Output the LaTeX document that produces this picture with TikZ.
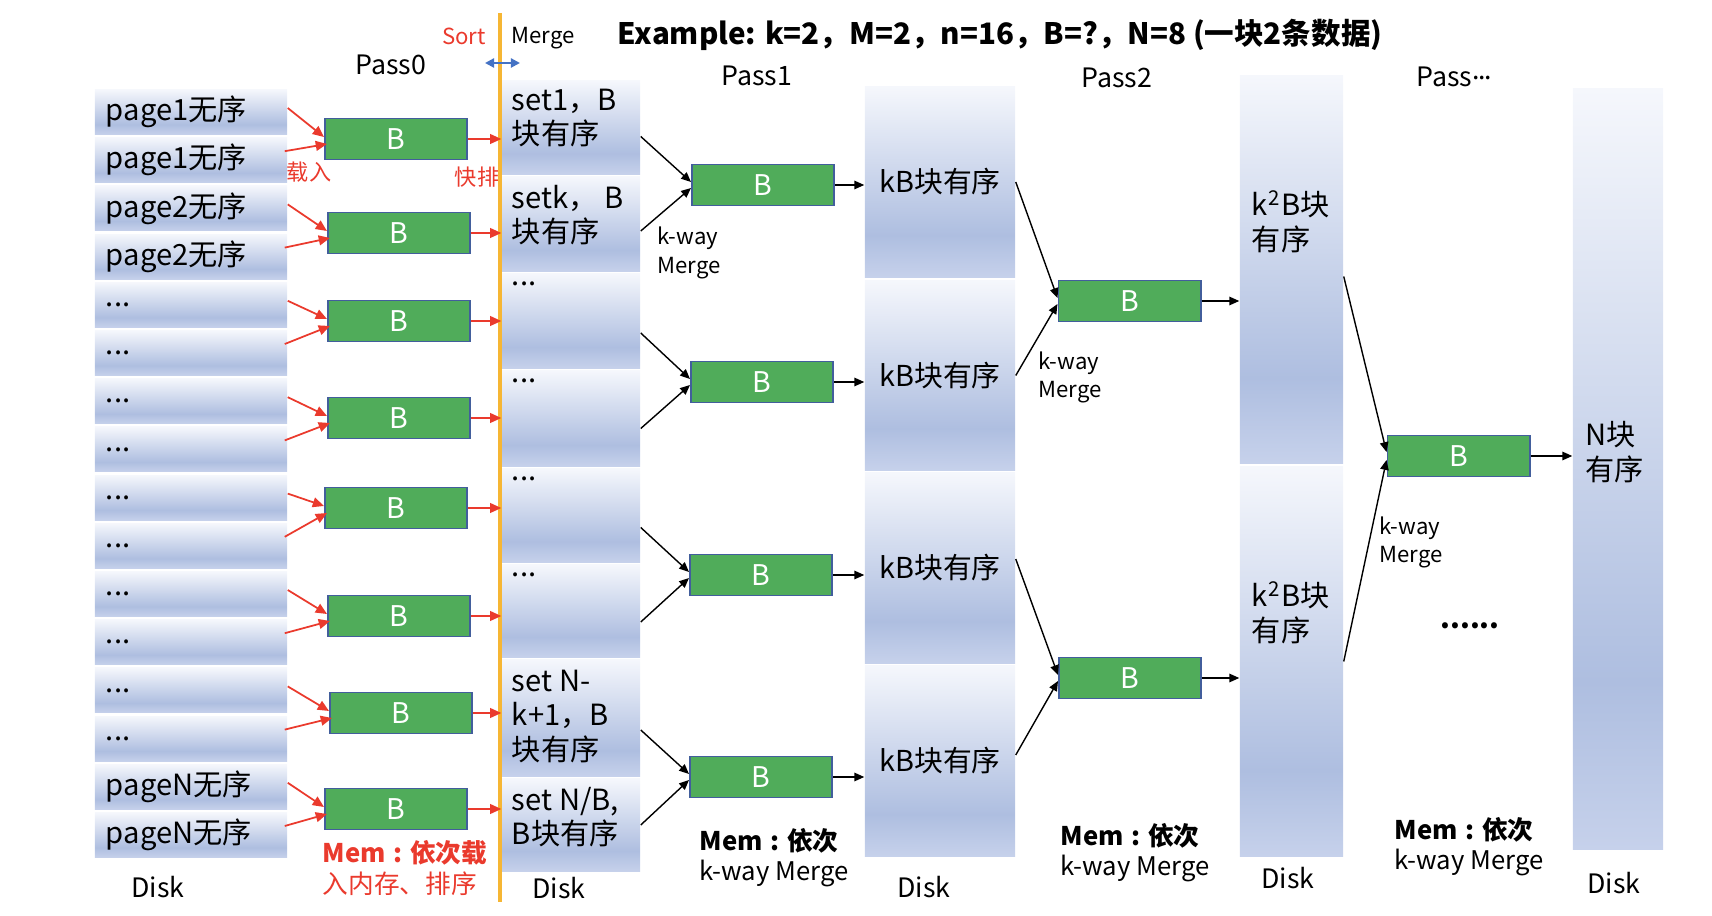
\documentclass[tikz,border=0pt]{standalone}
\usepackage{fontspec}
\setmainfont{Noto Sans CJK SC}
\usetikzlibrary{arrows.meta, positioning, calc}

\definecolor{diskTop}{RGB}{245,247,252}
\definecolor{diskDark}{RGB}{174,190,224}
\definecolor{diskLow}{RGB}{198,209,235}
\definecolor{bufGreen}{RGB}{80,172,90}
\definecolor{bufLine}{RGB}{66,94,156}
\definecolor{sortRed}{RGB}{234,58,45}
\definecolor{sortLine}{RGB}{246,182,52}
\definecolor{gapBlue}{RGB}{68,114,196}

\pgfdeclareverticalshading{diskshade}{100bp}{color(0bp)=(diskLow); color(25bp)=(diskLow); color(36bp)=(diskDark); color(75bp)=(diskTop); color(100bp)=(diskTop)}

\newcommand{\memcolon}{\kern0.3em:\kern0.3em}

\begin{document}
\begin{tikzpicture}[
  x=0.01cm, y=-0.01cm,
  page/.style={rectangle, shade, shading=diskshade, minimum width=1.92cm, minimum height=0.45cm, text width=1.70cm, inner xsep=0.11cm, inner ysep=0pt, align=left, font=\fontsize{8.3}{10}\selectfont},
  seg/.style={rectangle, shade, shading=diskshade, inner sep=0pt, align=center, font=\fontsize{8.2}{9.8}\selectfont},
  buf/.style={rectangle, draw=bufLine, fill=bufGreen, line width=0.55pt, minimum width=1.42cm, minimum height=0.41cm, inner sep=0pt, text=white, font=\fontsize{8.1}{10}\selectfont},
  txt/.style={align=left, inner sep=0pt, font=\fontsize{8.3}{9.8}\selectfont},
  small/.style={align=left, inner sep=0pt, font=\fontsize{6.3}{8}\selectfont},
  passlbl/.style={inner sep=0pt, font=\fontsize{7.6}{9}\selectfont},
  disklbl/.style={inner sep=0pt, font=\fontsize{7.6}{9}\selectfont},
  memlbl/.style={align=left, inner sep=0pt, anchor=west, font=\fontsize{7.3}{8.6}\selectfont},
  arrow/.style={-{Triangle[length=2.8pt,width=2.4pt]}, line width=0.4pt},
  redarrow/.style={-{Triangle[length=3.2pt,width=2.8pt]}, draw=sortRed, fill=sortRed, line width=0.5pt}
]
\useasboundingbox (0,0) rectangle (1712,916);

% headings
\node[font=\bfseries\fontsize{8.4}{10}\selectfont, inner sep=0pt] (title) at (1000,35) {Example: k=2，M=2，n=16，B=?，N=8 (一块2条数据)};
\node[passlbl] (pass0) at (391,65) {Pass0};
\node[passlbl] (pass1) at (757,76) {Pass1};
\node[passlbl] (pass2) at (1117,78) {Pass2};
\node[passlbl] (pass3) at (1454,77) {Pass\raisebox{0.25em}{.\kern-0.06em.\kern-0.06em.}};
\node[small, text=sortRed] (sortlbl) at (464,36) {Sort};
\node[small] (mergelbl) at (543,38) {Merge};

% Disk: unsorted pages
\node[page] (p1) at (191,112) {page1无序};
\node[page] (p2) at (191,160.2) {page1无序};
\node[page] (p3) at (191,208.4) {page2无序};
\node[page] (p4) at (191,256.6) {page2无序};
\node[page] (p5) at (191,304.8) {...};
\node[page] (p6) at (191,353) {...};
\node[page] (p7) at (191,401.2) {...};
\node[page] (p8) at (191,449.4) {...};
\node[page] (p9) at (191,497.6) {...};
\node[page] (p10) at (191,545.8) {...};
\node[page] (p11) at (191,594) {...};
\node[page] (p12) at (191,642.2) {...};
\node[page] (p13) at (191,690.4) {...};
\node[page] (p14) at (191,738.6) {...};
\node[page] (p15) at (191,786.8) {pageN无序};
\node[page] (p16) at (191,835) {pageN无序};

% Pass0 buffers
\node[buf] (b1) at (396,139) {B};
\node[buf] (b2) at (399,233) {B};
\node[buf] (b3) at (399,321) {B};
\node[buf] (b4) at (399,418) {B};
\node[buf] (b5) at (396,508) {B};
\node[buf] (b6) at (399,616) {B};
\node[buf] (b7) at (401,713) {B};
\node[buf] (b8) at (396,809) {B};

% Disk: sorted sets
\node[seg, minimum width=1.38cm, minimum height=0.93cm] (s1) at (571,127.5) {};
\node[seg, minimum width=1.38cm, minimum height=0.94cm] (s2) at (571,224) {};
\node[seg, minimum width=1.38cm, minimum height=0.94cm] (s3) at (571,321) {};
\node[seg, minimum width=1.38cm, minimum height=0.95cm] (s4) at (571,418.5) {};
\node[seg, minimum width=1.38cm, minimum height=0.93cm] (s5) at (571,515.5) {};
\node[seg, minimum width=1.38cm, minimum height=0.92cm] (s6) at (571,611) {};
\node[seg, minimum width=1.38cm, minimum height=1.16cm] (s7) at (571,718) {};
\node[seg, minimum width=1.38cm, minimum height=0.92cm] (s8) at (571,825) {};
\node[txt, anchor=north west] (t1) at ([xshift=0.1cm, yshift=-0.08cm]s1.north west) {set1，B\\块有序};
\node[txt, anchor=north west] (t2) at ([xshift=0.1cm, yshift=-0.08cm]s2.north west) {setk，~B\\块有序};
\node[txt, anchor=north west] (t3) at ([xshift=0.1cm, yshift=-0.08cm]s3.north west) {...};
\node[txt, anchor=north west] (t4) at ([xshift=0.1cm, yshift=-0.08cm]s4.north west) {...};
\node[txt, anchor=north west] (t5) at ([xshift=0.1cm, yshift=-0.08cm]s5.north west) {...};
\node[txt, anchor=north west] (t6) at ([xshift=0.1cm, yshift=-0.08cm]s6.north west) {...};
\node[txt, anchor=north west] (t7) at ([xshift=0.1cm, yshift=-0.1cm]s7.north west) {set N-\\k+1，B\\块有序};
\node[txt, anchor=north west] (t8) at ([xshift=0.1cm, yshift=-0.08cm]s8.north west) {set N/B,\\B块有序};

% Pass1 buffers and kB runs
\node[buf] (m1) at (763,185) {B};
\node[buf] (m2) at (762,382) {B};
\node[buf] (m3) at (761,575) {B};
\node[buf] (m4) at (761,777) {B};
\node[seg, minimum width=1.50cm, minimum height=1.90cm] (k1) at (940,182) {kB块有序};
\node[seg, minimum width=1.50cm, minimum height=1.89cm] (k2) at (940,375.5) {kB块有序};
\node[seg, minimum width=1.50cm, minimum height=1.90cm] (k3) at (940,568) {kB块有序};
\node[seg, minimum width=1.50cm, minimum height=1.90cm] (k4) at (940,761) {kB块有序};

% Pass2 buffers and k^2B runs
\node[buf] (q1) at (1129.5,301) {B};
\node[buf] (q2) at (1130,678) {B};
\node[seg, minimum width=1.03cm, minimum height=3.87cm] (r1) at (1291.5,269.5) {};
\node[seg, minimum width=1.03cm, minimum height=3.89cm] (r2) at (1291.5,661.5) {};
\node[txt, anchor=north west] (rt1) at ([xshift=0.12cm, yshift=-1.15cm]r1.north west) {k\textsuperscript{2}B块\\有序};
\node[txt, anchor=north west] (rt2) at ([xshift=0.12cm, yshift=-1.15cm]r2.north west) {k\textsuperscript{2}B块\\有序};

% last pass
\node[buf] (f) at (1458.5,456) {B};
\node[seg, minimum width=0.90cm, minimum height=7.60cm] (ncol) at (1618,469) {};
\node[txt, anchor=west] (ntxt) at (1585,452) {N块\\有序};
\node[font=\bfseries\fontsize{8}{10}\selectfont, inner sep=0pt] (dots) at (1470,626) {......};

% side notes
\node[small, text=sortRed] (load) at (309,172) {载入};
\node[small, text=sortRed] (qsort) at (477,177) {快排};
\node[small, anchor=west] (kw1) at (657,253) {k-way\\Merge};
\node[small, anchor=west] (kw2) at (1038,377.5) {k-way\\Merge};
\node[small, anchor=west] (kw3) at (1379,542.5) {k-way\\Merge};
\node[memlbl, text=sortRed] (mem0) at (322,868) {\textbf{Mem\memcolon 依次载}\\入内存、排序};
\node[memlbl] (mem1) at (699,858) {\textbf{Mem\memcolon 依次}\\k-way Merge};
\node[memlbl] (mem2) at (1060,852.5) {\textbf{Mem\memcolon 依次}\\k-way Merge};
\node[memlbl] (mem3) at (1394,847) {\textbf{Mem\memcolon 依次}\\k-way Merge};
\node[disklbl] (disk0) at (158,887) {Disk};
\node[disklbl] (disk1) at (559,888) {Disk};
\node[disklbl] (disk2) at (924,887) {Disk};
\node[disklbl] (disk3) at (1288,878) {Disk};
\node[disklbl] (disk4) at (1614,883) {Disk};

% sort / merge border
\coordinate (sorttop) at (500,13);
\coordinate (sortbot) at (500,902);
\draw[sortLine, line width=0.9pt] (sorttop) -- (sortbot);
\coordinate (gapL) at (485,63);
\coordinate (gapR) at (520,63);
\draw[{Triangle[length=2.6pt,width=2.6pt]}-{Triangle[length=2.6pt,width=2.6pt]}, draw=gapBlue, fill=gapBlue, line width=0.6pt] (gapL) -- (gapR);

% Pass0: load and sort
\draw[redarrow] ($(p1.east)+(0,-4)$) -- ($(b1.west)+(0,-2)$);
\draw[redarrow] ($(p2.east)+(-3,-9)$) -- ($(b1.west)+(3,5)$);
\draw[redarrow] ($(p3.east)+(0,-4)$) -- ($(b2.west)+(0,-2)$);
\draw[redarrow] ($(p4.east)+(-3,-9)$) -- ($(b2.west)+(3,5)$);
\draw[redarrow] ($(p5.east)+(0,-4)$) -- ($(b3.west)+(0,-2)$);
\draw[redarrow] ($(p6.east)+(-3,-9)$) -- ($(b3.west)+(3,5)$);
\draw[redarrow] ($(p7.east)+(0,-4)$) -- ($(b4.west)+(0,-2)$);
\draw[redarrow] ($(p8.east)+(-3,-9)$) -- ($(b4.west)+(3,5)$);
\draw[redarrow] ($(p9.east)+(0,-4)$) -- ($(b5.west)+(0,-2)$);
\draw[redarrow] ($(p10.east)+(-3,-9)$) -- ($(b5.west)+(3,5)$);
\draw[redarrow] ($(p11.east)+(0,-4)$) -- ($(b6.west)+(0,-2)$);
\draw[redarrow] ($(p12.east)+(-3,-9)$) -- ($(b6.west)+(3,5)$);
\draw[redarrow] ($(p13.east)+(0,-4)$) -- ($(b7.west)+(0,-2)$);
\draw[redarrow] ($(p14.east)+(-3,-9)$) -- ($(b7.west)+(3,5)$);
\draw[redarrow] ($(p15.east)+(0,-4)$) -- ($(b8.west)+(0,-2)$);
\draw[redarrow] ($(p16.east)+(-3,-9)$) -- ($(b8.west)+(3,5)$);
\draw[redarrow] (b1.east) -- (b1.east -| s1.west);
\draw[redarrow] (b2.east) -- (b2.east -| s2.west);
\draw[redarrow] (b3.east) -- (b3.east -| s3.west);
\draw[redarrow] (b4.east) -- (b4.east -| s4.west);
\draw[redarrow] (b5.east) -- (b5.east -| s5.west);
\draw[redarrow] (b6.east) -- (b6.east -| s6.west);
\draw[redarrow] (b7.east) -- (b7.east -| s7.west);
\draw[redarrow] (b8.east) -- (b8.east -| s8.west);

% Pass1: k-way merge
\draw[arrow] ($(s1.east)+(0,9)$) -- ($(m1.west)+(0,-3)$);
\draw[arrow] ($(s2.east)+(0,7)$) -- ($(m1.west)+(0,3)$);
\draw[arrow] ($(s3.east)+(0,12)$) -- ($(m2.west)+(0,-3)$);
\draw[arrow] ($(s4.east)+(0,10)$) -- ($(m2.west)+(0,3)$);
\draw[arrow] ($(s5.east)+(0,12)$) -- ($(m3.west)+(0,-3)$);
\draw[arrow] ($(s6.east)+(0,11)$) -- ($(m3.west)+(0,3)$);
\draw[arrow] ($(s7.east)+(0,12)$) -- ($(m4.west)+(0,-3)$);
\draw[arrow] (s8.east) -- ($(m4.west)+(0,3)$);
\draw[arrow] (m1.east) -- (m1.east -| k1.west);
\draw[arrow] (m2.east) -- (m2.east -| k2.west);
\draw[arrow] (m3.east) -- (m3.east -| k3.west);
\draw[arrow] (m4.east) -- (m4.east -| k4.west);

% Pass2
\draw[arrow] (k1.east) -- ($(q1.west)+(0,-3)$);
\draw[arrow] (k2.east) -- ($(q1.west)+(0,3)$);
\draw[arrow] ($(k3.east)+(0,-9)$) -- ($(q2.west)+(0,-3)$);
\draw[arrow] ($(k4.east)+(0,-6)$) -- ($(q2.west)+(0,3)$);
\draw[arrow] (q1.east) -- (q1.east -| r1.west);
\draw[arrow] (q2.east) -- (q2.east -| r2.west);

% Pass...
\draw[arrow] ($(r1.east)+(0,7)$) -- ($(f.west)+(0,-4)$);
\draw[arrow] (r2.east) -- ($(f.west)+(0,4)$);
\draw[arrow] (f.east) -- (f.east -| ncol.west);
\end{tikzpicture}
\end{document}
